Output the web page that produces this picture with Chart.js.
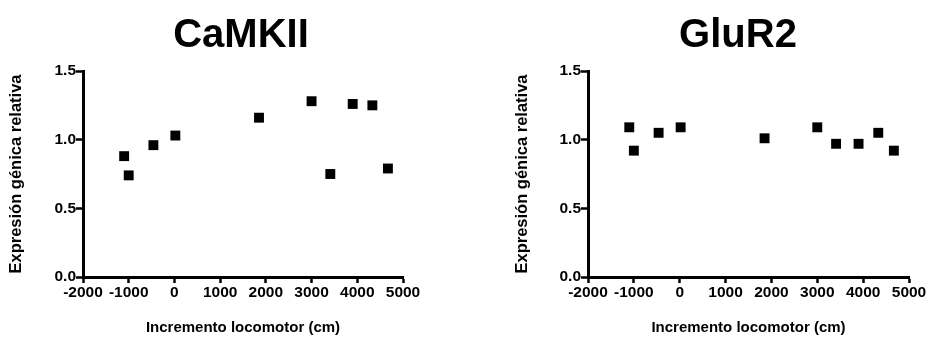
<!DOCTYPE html>
<html>
<head>
<meta charset="utf-8">
<script src="https://cdn.jsdelivr.net/npm/chart.js@4.4.1/dist/chart.umd.min.js"></script>
<style>
  body { margin: 0; background: #fff; }
  .wrap { position: relative; width: 928px; height: 339px; }
  canvas { position: absolute; top: 0; }
</style>
</head>
<body>
<div class="wrap">
  <canvas id="camkii" width="464" height="339" style="left:0"></canvas>
  <canvas id="glur2" width="464" height="339" style="left:464px"></canvas>
</div>
<script>
const locomotor = [-1100, -1000, -460, 20, 1850, 3000, 3410, 3900, 4330, 4670];
const camkii = [0.88, 0.74, 0.96, 1.03, 1.16, 1.28, 0.75, 1.26, 1.25, 0.79];
const glur2 = [1.09, 0.92, 1.05, 1.09, 1.01, 1.09, 0.97, 0.97, 1.05, 0.92];

const xTitle = 'Incremento locomotor (cm)';
const yTitle = 'Expresión génica relativa';

const FONT = '"Liberation Sans", Arial, Helvetica, sans-serif';

// big bold title over each panel
const panelTitle = {
    id: 'panelTitle',
    afterDraw(chart, args, opts) {
        const ctx = chart.ctx;
        ctx.save();
        ctx.font = 'bold 40px ' + FONT;
        ctx.fillStyle = '#000';
        ctx.textAlign = 'center';
        ctx.textBaseline = 'alphabetic';
        ctx.fillText(opts.text, opts.x, opts.y);
        ctx.restore();
    }
};

function makeChart(id, values, title, titleX, padLeft, padRight, yWidth) {
    const points = locomotor.map((x, i) => ({ x: x, y: values[i] }));
    return new Chart(document.getElementById(id), {
        type: 'scatter',
        data: {
            datasets: [{
                data: points,
                pointStyle: 'rect',
                pointRadius: 7,
                pointHoverRadius: 7,
                backgroundColor: '#000',
                borderColor: '#000',
                borderWidth: 0
            }]
        },
        options: {
            responsive: false,
            animation: false,
            layout: { padding: { left: padLeft, right: padRight, top: 71, bottom: 0 } },
            plugins: {
                legend: { display: false },
                tooltip: { enabled: false },
                panelTitle: { text: title, x: titleX, y: 47 }
            },
            scales: {
                x: {
                    type: 'linear',
                    min: -2000,
                    max: 5000,
                    afterFit: s => { s.height = 62; },
                    ticks: {
                        stepSize: 1000,
                        color: '#000',
                        padding: 0,
                        maxRotation: 0,
                        callback: v => String(v),
                        font: { family: FONT, size: 15.5, weight: 'bold' }
                    },
                    grid: { drawOnChartArea: false, drawTicks: true, tickLength: 6, tickWidth: 2.5, tickColor: '#000' },
                    border: { color: '#000', width: 3 },
                    title: {
                        display: true,
                        text: xTitle,
                        color: '#000',
                        padding: { top: 0, bottom: 2 },
                        font: { family: FONT, size: 15, weight: 'bold' }
                    }
                },
                y: {
                    min: 0,
                    max: 1.5,
                    afterFit: s => { s.width = yWidth; },
                    ticks: {
                        stepSize: 0.5,
                        color: '#000',
                        padding: 0,
                        callback: v => v.toFixed(1),
                        font: { family: FONT, size: 15.5, weight: 'bold' }
                    },
                    grid: { drawOnChartArea: false, drawTicks: true, tickLength: 7, tickWidth: 2.5, tickColor: '#000' },
                    border: { color: '#000', width: 3 },
                    title: {
                        display: true,
                        text: yTitle,
                        color: '#000',
                        padding: { top: 7, bottom: 0 },
                        font: { family: FONT, size: 16.5, weight: 'bold' }
                    }
                }
            }
        },
        plugins: [panelTitle]
    });
}

makeChart('camkii', camkii, 'CaMKII', 241, 0, 61, 83);
makeChart('glur2', glur2, 'GluR2', 274, 42, 19, 82);
</script>
</body>
</html>
